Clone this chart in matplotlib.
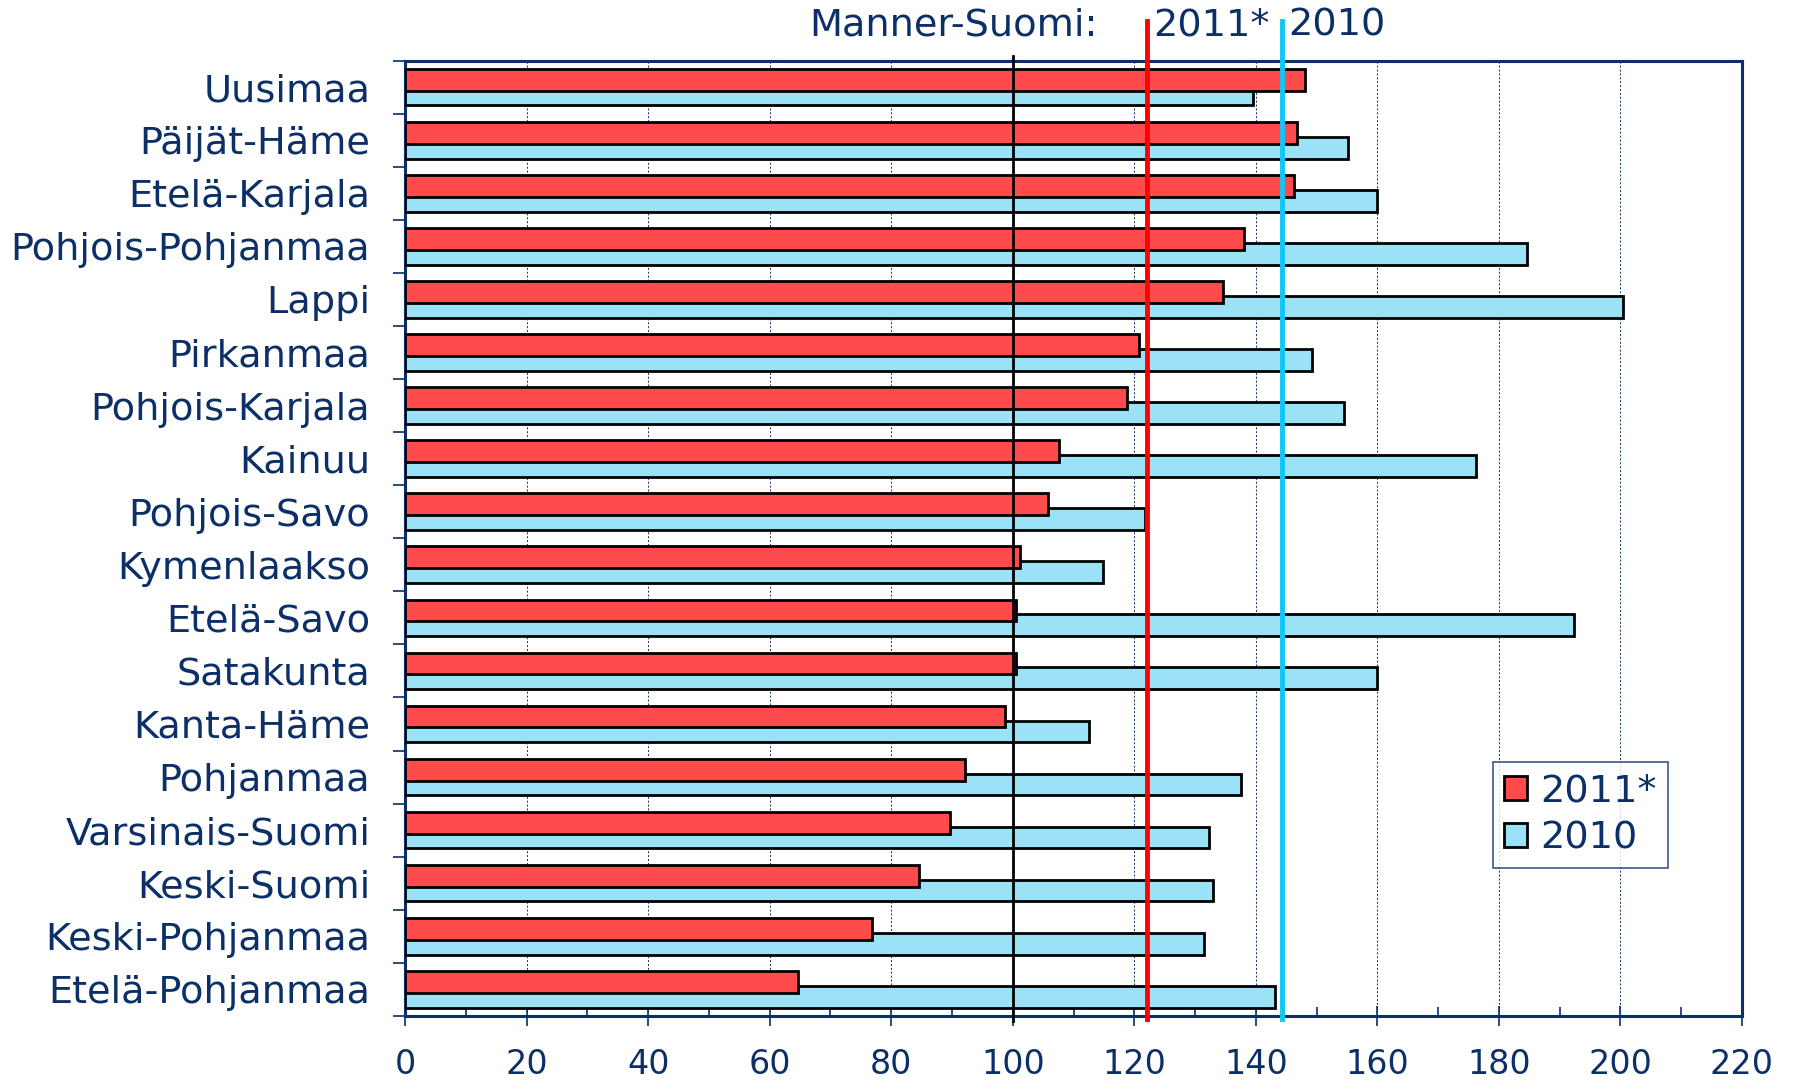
import numpy as np
import matplotlib.pyplot as plt
from matplotlib.patches import Patch

regions = ['Uusimaa', 'Päijät-Häme', 'Etelä-Karjala', 'Pohjois-Pohjanmaa', 'Lappi',
           'Pirkanmaa', 'Pohjois-Karjala', 'Kainuu', 'Pohjois-Savo', 'Kymenlaakso',
           'Etelä-Savo', 'Satakunta', 'Kanta-Häme', 'Pohjanmaa', 'Varsinais-Suomi',
           'Keski-Suomi', 'Keski-Pohjanmaa', 'Etelä-Pohjanmaa']
v2011 = [148.1, 146.8, 146.2, 138.1, 134.6, 120.8, 118.8, 107.6, 105.8, 101.2,
         100.5, 100.5, 98.8, 92.2, 89.6, 84.5, 76.8, 64.7]
v2010 = [139.6, 155.1, 160.0, 184.6, 200.4, 149.2, 154.5, 176.2, 121.8, 114.8,
         192.3, 160.0, 112.5, 137.6, 132.3, 132.9, 131.5, 143.2]
mainland_2011 = 122.1
mainland_2010 = 144.3
xticks = list(range(0, 221, 20))

navy = '#0b2f66'
red_fill = '#ff4b4b'
cyan_fill = '#9ce2f7'

fig = plt.figure(figsize=(17.94, 10.83), dpi=100)
ax = fig.add_axes([0.2258, 0.062, 0.971 - 0.2258, 0.882])

y = np.arange(len(regions))
h = 0.41
ax.barh(y + 0.14, v2010, height=h, color=cyan_fill, edgecolor='black', linewidth=2, zorder=3)
ax.barh(y - 0.14, v2011, height=h, color=red_fill, edgecolor='black', linewidth=2, zorder=4)

ax.set_ylim(len(regions) - 0.5, -0.5)
ax.set_xlim(0, 220)

# reference lines
tr = ax.get_xaxis_transform()
ax.plot([100, 100], [-0.005, 1.005], color='black', lw=2, transform=tr, zorder=5, clip_on=False)
ax.plot([mainland_2011] * 2, [-0.003, 1.042], color='#ff0000', lw=3.5, transform=tr,
        zorder=6, clip_on=False)
ax.plot([mainland_2010] * 2, [-0.003, 1.042], color='#10c8f8', lw=3.5, transform=tr,
        zorder=6, clip_on=False)

ax.text(114, 1.037, 'Manner-Suomi:', ha='right', va='center', fontsize=27.5, color=navy, transform=tr)
ax.text(123.1, 1.037, '2011*', ha='left', va='center', fontsize=27.5, color=navy, transform=tr)
ax.text(145.3, 1.037, '2010', ha='left', va='center', fontsize=27.5, color=navy, transform=tr)

# grid
for gx in xticks[1:-1]:
    if gx != 100:
        ax.axvline(gx, color=navy, lw=0.7, ls=(0, (2, 2)), zorder=1)

ax.set_xticks(xticks)
ax.set_xticks(range(0, 221, 10), minor=True)
ax.set_xticklabels([str(t) for t in xticks])
ax.tick_params(axis='x', which='major', direction='inout', length=15, width=1.2, colors=navy,
               labelsize=24, pad=16)
ax.tick_params(axis='x', which='minor', direction='in', length=6.5, width=1.2, colors=navy)

ax.set_yticks(y)
ax.set_yticklabels(regions)
ax.set_yticks(np.arange(-0.5, len(regions) + 0.5, 1), minor=True)
ax.tick_params(axis='y', which='major', length=0, labelsize=27.5, labelcolor=navy, pad=25)
ax.tick_params(axis='y', which='minor', direction='out', length=9, width=1.2, colors=navy)

for s in ax.spines.values():
    s.set_color(navy)
    s.set_linewidth(2.2)

leg = ax.legend(handles=[Patch(facecolor=red_fill, edgecolor='black', linewidth=2, label='2011*'),
                         Patch(facecolor=cyan_fill, edgecolor='black', linewidth=2, label='2010')],
                loc='upper left', bbox_to_anchor=(0.8135, 0.266), fontsize=27.5, frameon=True,
                fancybox=False, handlelength=0.6, handleheight=0.6, handletextpad=0.35,
                borderpad=0.3, labelspacing=0.3, borderaxespad=0)
leg.get_frame().set_edgecolor(navy)
leg.get_frame().set_linewidth(1.2)
for t in leg.get_texts():
    t.set_color(navy)

fig.savefig('out.png', dpi=100)
